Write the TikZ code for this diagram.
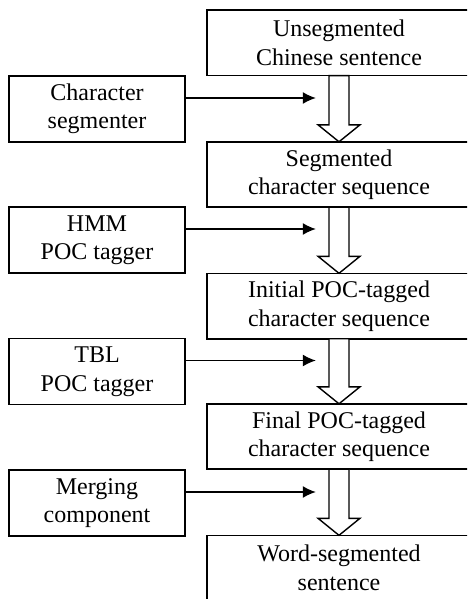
\documentclass[tikz,border=0pt]{standalone}
\usepackage{fontspec}
\setmainfont{Liberation Serif}
\usetikzlibrary{arrows.meta}
\tikzset{every node/.style={font=\fontsize{24}{28.5}\selectfont}}
% stage boxes run off the right edge, so their right side is never drawn
\newcommand{\stage}[4]{\node[minimum width=264pt,minimum height=65pt,align=center,inner sep=0pt] (#1) at (#2,#3) {#4};\draw[line width=1.6pt] (#1.north east) -- (#1.north west) -- (#1.south west) -- (#1.south east);}
\newcommand{\module}[4]{\node[draw,line width=1.6pt,minimum width=176pt,minimum height=66pt,align=center,inner sep=0pt] (#1) at (#2,#3) {#4};}
\newcommand{\feed}[1]{\coordinate (#1tip) at ([xshift=130pt,yshift=11pt]#1.east);\draw[line width=1.4pt,-{Latex[length=13pt,width=12pt]}] ([yshift=11pt]#1.east) -- (#1tip);}
\newcommand{\flow}[2]{\draw[line width=1.4pt,fill=white] ([xshift=-10pt]#1.south) -- ([xshift=-10pt,yshift=17pt]#2.north) -- ([xshift=-21pt,yshift=17pt]#2.north) -- (#2.north) -- ([xshift=21pt,yshift=17pt]#2.north) -- ([xshift=10pt,yshift=17pt]#2.north) -- ([xshift=10pt]#1.south) -- cycle;}

\begin{document}
\begin{tikzpicture}[x=1pt,y=-1pt]
    \path[use as bounding box,clip] (0,0) rectangle (467,599);
    \stage{raw}{339}{43}{Unsegmented\\Chinese sentence}
    \stage{chars}{339}{174.5}{Segmented\\character sequence}
    \stage{init}{339}{306}{Initial POC-tagged\\character sequence}
    \stage{final}{339}{436.5}{Final POC-tagged\\character sequence}
    \stage{words}{339}{568}{Word-segmented\\sentence}
    \module{cs}{97}{109}{Character\\segmenter}    \module{hmm}{97}{240}{HMM\\POC tagger}
    \module{tbl}{97}{371.5}{TBL\\POC tagger}    \module{merge}{97}{503}{Merging\\component}
    \flow{raw}{chars}\flow{chars}{init}\flow{init}{final}\flow{final}{words}
    \feed{cs}\feed{hmm}\feed{tbl}\feed{merge}
\end{tikzpicture}
\end{document}
